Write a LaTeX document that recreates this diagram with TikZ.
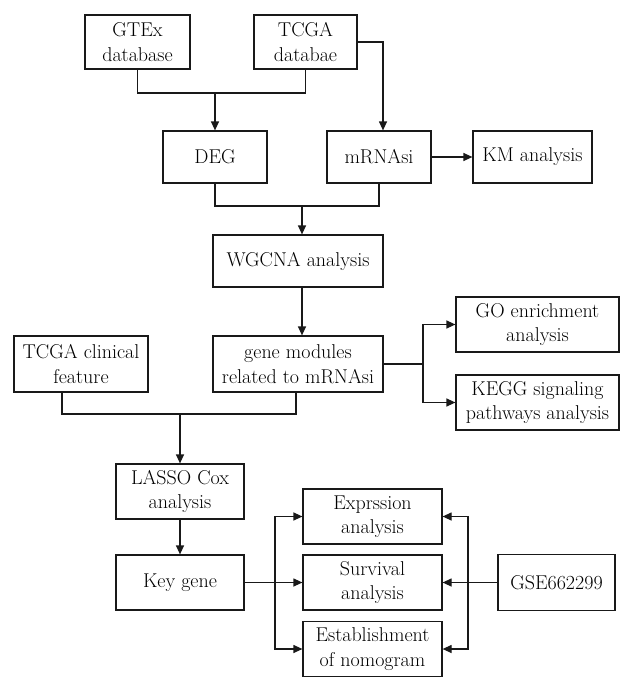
\documentclass[tikz,border=0pt]{standalone}
\usepackage{fontspec}
\usetikzlibrary{arrows.meta}
\begin{document}
\begin{tikzpicture}[x=1pt,y=-1pt,
  box/.style={draw=black!90, line width=1.2pt, align=center, inner sep=0pt, font=\rmfamily\fontsize{20}{24.5}\selectfont},
  ln/.style={draw=black!90, line width=1.2pt},
  arr/.style={draw=black!90, line width=1.2pt, -{Triangle[length=9pt,width=8pt]}}]
\useasboundingbox (0,0) rectangle (620,677);
\node[box, minimum width=105pt, minimum height=54pt] (gtex) at (137.5,42) {GTEx\\database};
\node[box, minimum width=103pt, minimum height=54pt] (tcga) at (305.5,42) {TCGA\\databae};
\node[box, minimum width=104pt, minimum height=52pt] (deg) at (215,157) {DEG};
\node[box, minimum width=104pt, minimum height=52pt] (mrna) at (379,157) {mRNAsi};
\node[box, minimum width=119pt, minimum height=52pt] (km) at (532.5,157) {KM analysis};
\node[box, minimum width=170pt, minimum height=52pt] (wgcna) at (298,261) {WGCNA analysis};
\node[box, minimum width=170pt, minimum height=56pt] (gm) at (298,364) {gene modules\\related to mRNAsi};
\node[box, minimum width=134pt, minimum height=56pt] (clin) at (81,364) {TCGA clinical\\feature};
\node[box, minimum width=163pt, minimum height=55pt] (go) at (537.5,324.5) {GO enrichment\\analysis};
\node[box, minimum width=163pt, minimum height=55pt] (kegg) at (537.5,402.5) {KEGG signaling\\pathways analysis};
\node[box, minimum width=128pt, minimum height=55pt] (lasso) at (180,491.5) {LASSO Cox\\analysis};
\node[box, minimum width=128pt, minimum height=55pt] (key) at (180,582.5) {Key gene};
\node[box, minimum width=139pt, minimum height=55pt] (expr) at (372.5,516.5) {Exprssion\\analysis};
\node[box, minimum width=139pt, minimum height=55pt] (surv) at (372.5,582.5) {Survival\\analysis};
\node[box, minimum width=139pt, minimum height=55pt] (estab) at (372.5,649) {Establishment\\of nomogram};
\node[box, minimum width=117pt, minimum height=56pt] (gse) at (556.5,582.5) {GSE662299};
% top
\coordinate (j1) at (215,93);
\draw[ln] (gtex.south) |- (j1) -| (tcga.south);
\draw[arr] (j1) -- (deg.north);
\draw[arr] (tcga.east) -| ([xshift=4pt]mrna.north);
\draw[arr] (mrna.east) -- (km.west);
\coordinate (j2) at (302,206);
\draw[ln] (deg.south) |- (j2) -| (mrna.south);
\draw[arr] (j2) -- (j2 |- wgcna.north);
\draw[arr] (j2 |- wgcna.south) -- (j2 |- gm.north);
% branch to GO / KEGG
\coordinate (b1) at (423,364);
\draw[ln] (gm.east) -- (b1);
\draw[arr] (b1) |- (go.west);
\draw[arr] (b1) |- (kegg.west);
% join to LASSO
\coordinate (j3) at (180,414);
\draw[ln] ([xshift=-19pt]clin.south) |- (j3) -| ([xshift=-2pt]gm.south);
\draw[arr] (j3) -- (lasso.north);
\draw[arr] (lasso.south) -- (key.north);
% key gene branches
\coordinate (b2) at (275,582.5);
\draw[ln] (key.east) -- (b2);
\draw[arr] (b2) |- (expr.west);
\draw[arr] (b2) -- (surv.west);
\draw[arr] (b2) |- (estab.west);
% GSE branches
\coordinate (b3) at (468,582.5);
\draw[ln] (gse.west) -- (b3);
\draw[arr] (b3) |- (expr.east);
\draw[arr] (b3) -- (surv.east);
\draw[arr] (b3) |- (estab.east);
\end{tikzpicture}
\end{document}
